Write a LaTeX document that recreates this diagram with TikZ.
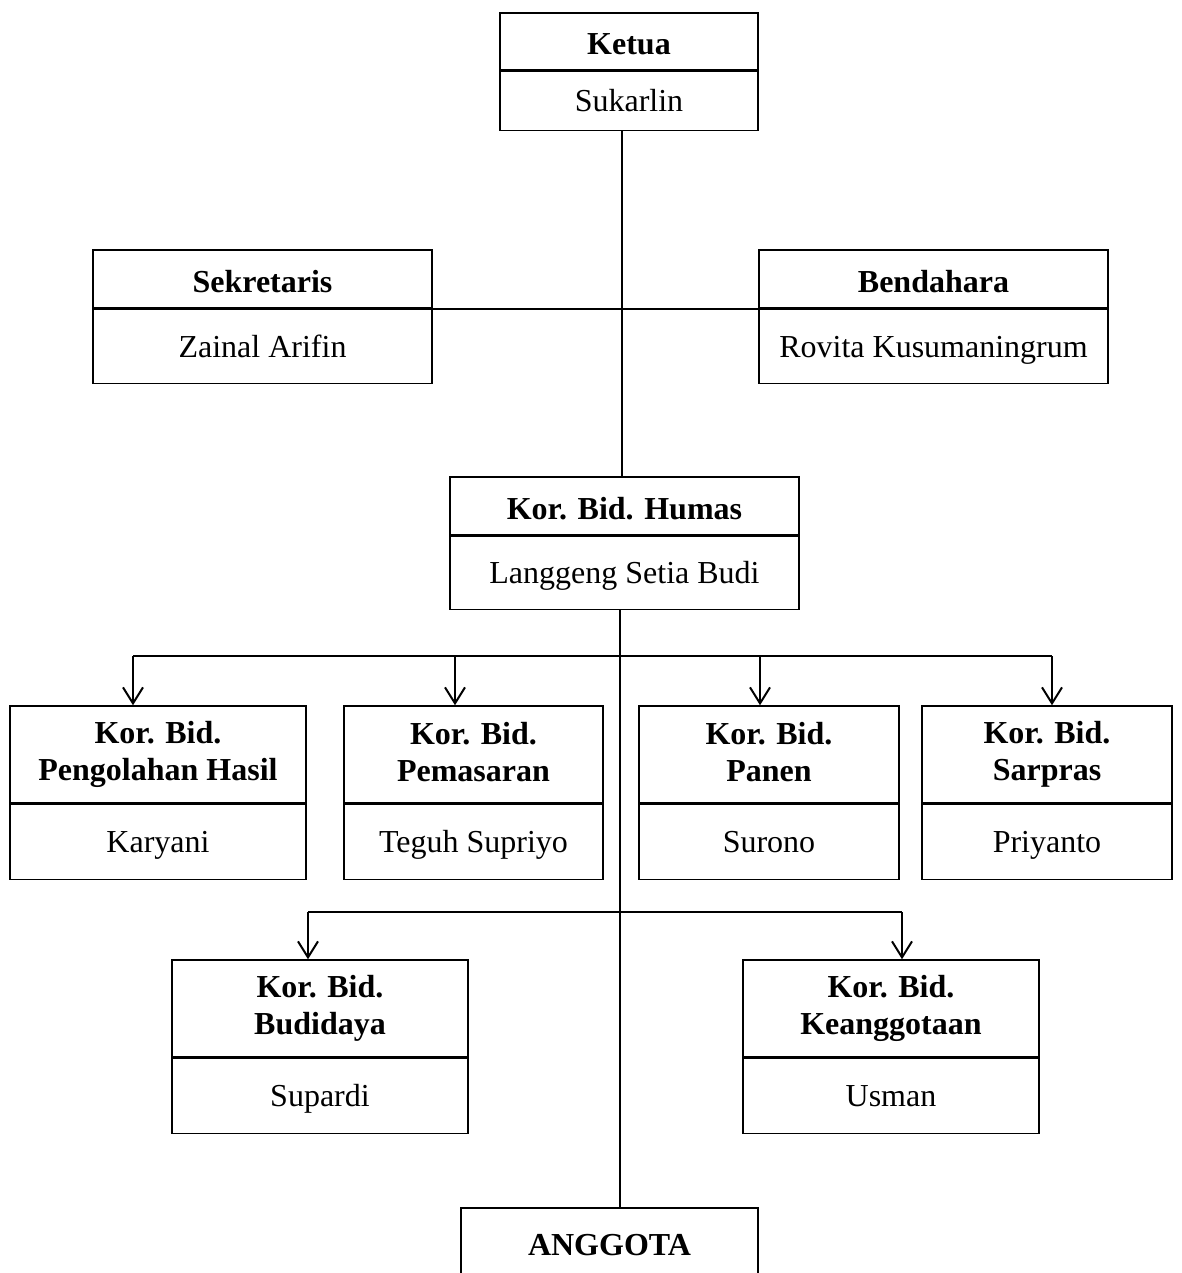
\documentclass[tikz,border=0pt]{standalone}
\usepackage{fontspec}
\setmainfont{Liberation Serif}
\usetikzlibrary{arrows.meta,positioning,calc}

\newcommand{\orgfont}{\fontsize{16}{18.5}\selectfont}
\newcommand{\headtop}{\rule{0pt}{16pt}}
\newcommand{\headbot}{\rule[-2.5pt]{0pt}{2.5pt}}
\newcommand{\bodystrut}{\rule[-4pt]{0pt}{18.5pt}}
\tikzset{
  head/.style={draw, line width=0.75pt, font=\bfseries\orgfont, align=center, inner sep=0pt,
    execute at begin node=\headtop, execute at end node=\headbot},
  body/.style={draw, line width=0.75pt, font=\orgfont, inner sep=0pt, below=0pt of #1,
    execute at begin node=\bodystrut},
  link/.style={line width=1pt},
  arrow/.style={link, -{Straight Barb[length=8pt,width=10pt]}}
}

\begin{document}
\begin{tikzpicture}[x=0.5pt,y=-0.5pt]
  \useasboundingbox (0,0) rectangle (1182,1273);

  % pengurus inti
  \node[head, minimum width=129pt, minimum height=28.5pt] (ketua) at (629,41.5) {Ketua};
  \node[body=ketua, minimum width=129pt, minimum height=29.5pt] (ketua-n) {Sukarlin};

  \node[head, minimum width=169.5pt, minimum height=29pt] (sekre) at (262.5,279) {Sekretaris};
  \node[body=sekre, minimum width=169.5pt, minimum height=37pt] (sekre-n) {Zainal Arifin};

  \node[head, minimum width=174.5pt, minimum height=29pt] (benda) at (933.5,279) {Bendahara};
  \node[body=benda, minimum width=174.5pt, minimum height=37pt] (benda-n) {Rovita Kusumaningrum};

  \node[head, minimum width=174.5pt, minimum height=29pt] (humas) at (624.5,506) {Kor. Bid. Humas};
  \node[body=humas, minimum width=174.5pt, minimum height=36.5pt] (humas-n) {Langgeng Setia Budi};

  % koordinator bidang
  \node[head, minimum width=148pt, minimum height=48.5pt] (olah) at (158,754.5) {Kor. Bid.\\Pengolahan Hasil};
  \node[body=olah, minimum width=148pt, minimum height=37.5pt] (olah-n) {Karyani};

  \node[head, minimum width=129.5pt, minimum height=48.5pt] (pasar) at (473.5,754.5) {Kor. Bid.\\Pemasaran};
  \node[body=pasar, minimum width=129.5pt, minimum height=37.5pt] (pasar-n) {Teguh Supriyo};

  \node[head, minimum width=130pt, minimum height=48.5pt] (panen) at (769,754.5) {Kor. Bid.\\Panen};
  \node[body=panen, minimum width=130pt, minimum height=37.5pt] (panen-n) {Surono};

  \node[head, minimum width=125pt, minimum height=48.5pt] (sarpras) at (1047,754.5) {Kor. Bid.\\Sarpras};
  \node[body=sarpras, minimum width=125pt, minimum height=37.5pt] (sarpras-n) {Priyanto};

  \node[head, minimum width=148pt, minimum height=48.5pt] (budi) at (320,1008.5) {Kor. Bid.\\Budidaya};
  \node[body=budi, minimum width=148pt, minimum height=37.5pt] (budi-n) {Supardi};

  \node[head, minimum width=148pt, minimum height=48.5pt] (keang) at (891,1008.5) {Kor. Bid.\\Keanggotaan};
  \node[body=keang, minimum width=148pt, minimum height=37.5pt] (keang-n) {Usman};

  \node[head, minimum width=148.5pt, minimum height=34pt] (anggota) at (609.5,1242) {ANGGOTA};

  % garis
  \coordinate (bus1) at (620,656);
  \coordinate (bus2) at (620,912);
  \draw[link] ([xshift=-3.5pt]ketua-n.south) -- ([xshift=-3.5pt]ketua-n.south |- humas.north);
  \draw[link] (sekre-n.north east) -- ([xshift=8.5pt]benda-n.north west);
  \draw[link] (humas-n.south -| bus1) -- (bus1 |- anggota.north);

  \draw[link] ([xshift=-12.5pt]olah.north |- bus1) -- ([xshift=2.5pt]sarpras.north |- bus1);
  \foreach \n/\dx in {olah/-12.5pt, pasar/-9.25pt, panen/-4.5pt, sarpras/2.5pt}
    \draw[arrow] ([xshift=\dx]\n.north |- bus1) -- ([xshift=\dx]\n.north);

  \draw[link] ([xshift=-6pt]budi.north |- bus2) -- ([xshift=5.5pt]keang.north |- bus2);
  \foreach \n/\dx in {budi/-6pt, keang/5.5pt}
    \draw[arrow] ([xshift=\dx]\n.north |- bus2) -- ([xshift=\dx]\n.north);
\end{tikzpicture}
\end{document}
